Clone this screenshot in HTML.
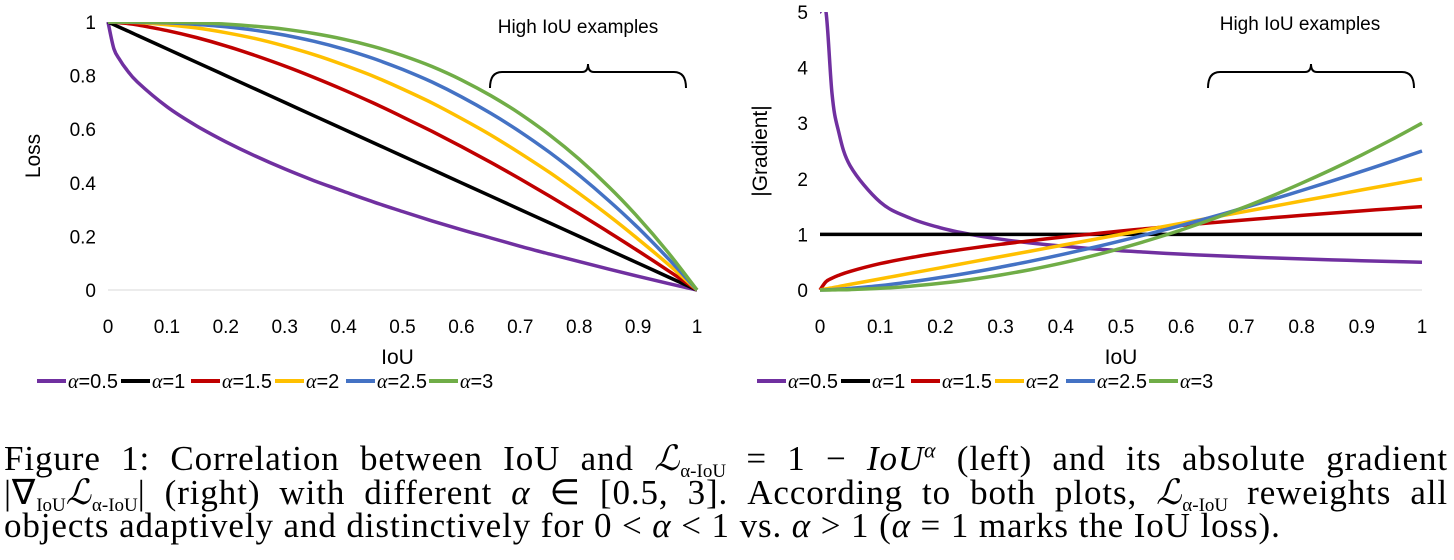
<!DOCTYPE html>
<html><head><meta charset="utf-8"><style>
body{margin:0;background:#fff;width:1454px;height:560px;overflow:hidden;position:relative;font-family:"Liberation Sans",sans-serif}
svg{position:absolute;left:0;top:0}
.cap{position:absolute;left:4px;width:1444px;font-family:"Liberation Serif",serif;font-size:35px;line-height:33px;height:33px;letter-spacing:0.9px;white-space:nowrap;text-align:justify;text-align-last:justify}
.cap i{font-style:italic}
sub,sup{line-height:0}
sub{font-size:19px;vertical-align:-7px;letter-spacing:0}
</style></head><body>
<svg id="chart" width="1454" height="420"></svg>
<div class="cap" style="top:442px">Figure 1: Correlation between IoU and <i>ℒ</i><sub>α-IoU</sub> = 1 − <i>IoU<sup style="font-size:22px">α</sup></i> (left) and its absolute gradient</div>
<div class="cap" style="top:476px">|∇<sub>IoU</sub><i>ℒ</i><sub>α-IoU</sub>| (right) with different <i>α</i> ∈ [0.5, 3]. According to both plots, <i>ℒ</i><sub>α-IoU</sub> reweights all</div>
<div class="cap" style="top:509px;text-align-last:left;width:auto">objects adaptively and distinctively for 0 &lt; <i>α</i> &lt; 1 vs. <i>α</i> &gt; 1 (<i>α</i> = 1 marks the IoU loss).</div>
<script>
const xs=[0,0.01,0.02,0.03,0.05,0.1,0.15,0.2,0.25,0.3,0.35,0.4,0.45,0.5,0.55,0.6,0.65,0.7,0.75,0.8,0.85,0.9,0.95,1];
const alphas=["0.5","1","1.5","2","2.5","3"];
const colors=["#7030a0","#000000","#c00000","#ffc000","#4472c4","#70ad47"];
const loss05=[1,0.9,0.859,0.827,0.776,0.684,0.613,0.553,0.5,0.452,0.408,0.368,0.329,0.293,0.258,0.225,0.194,0.163,0.134,0.106,0.078,0.051,0.025,0];
const loss1=[1,0.99,0.98,0.97,0.95,0.9,0.85,0.8,0.75,0.7,0.65,0.6,0.55,0.5,0.45,0.4,0.35,0.3,0.25,0.2,0.15,0.1,0.05,0];
const loss15=[1,0.999,0.997,0.995,0.989,0.968,0.942,0.911,0.875,0.836,0.793,0.747,0.698,0.646,0.592,0.535,0.476,0.414,0.350,0.284,0.216,0.146,0.074,0];
const loss2=[1,1,1,0.999,0.998,0.99,0.978,0.96,0.938,0.91,0.878,0.84,0.798,0.75,0.698,0.64,0.578,0.51,0.438,0.36,0.278,0.19,0.098,0];
const loss25=[1,1,1,1,0.999,0.997,0.991,0.982,0.969,0.951,0.928,0.899,0.864,0.823,0.776,0.721,0.659,0.59,0.513,0.428,0.334,0.232,0.12,0];
const loss3=[1,1,1,1,1,0.999,0.997,0.992,0.984,0.973,0.957,0.936,0.909,0.875,0.834,0.784,0.725,0.657,0.578,0.488,0.386,0.271,0.143,0];
const grad05=[5,5,3.536,2.887,2.236,1.581,1.291,1.118,1,0.913,0.845,0.791,0.745,0.707,0.674,0.645,0.62,0.598,0.577,0.559,0.542,0.527,0.513,0.5];
const grad1=[1,1,1,1,1,1,1,1,1,1,1,1,1,1,1,1,1,1,1,1,1,1,1,1];
const grad15=[0,0.15,0.212,0.26,0.335,0.474,0.581,0.671,0.75,0.822,0.887,0.949,1.006,1.061,1.112,1.162,1.209,1.255,1.299,1.342,1.383,1.423,1.462,1.5];
const grad2=[0,0.02,0.04,0.06,0.1,0.2,0.3,0.4,0.5,0.6,0.7,0.8,0.9,1,1.1,1.2,1.3,1.4,1.5,1.6,1.7,1.8,1.9,2];
const grad25=[0,0.0025,0.0071,0.013,0.028,0.079,0.145,0.224,0.3125,0.411,0.518,0.633,0.755,0.884,1.02,1.162,1.31,1.464,1.624,1.789,1.959,2.134,2.315,2.5];
const grad3=[0,0.0003,0.0012,0.0027,0.0075,0.03,0.0675,0.12,0.1875,0.27,0.3675,0.48,0.6075,0.75,0.9075,1.08,1.2675,1.47,1.6875,1.92,2.1675,2.43,2.7075,3];
const xTicks=["0","0.1","0.2","0.3","0.4","0.5","0.6","0.7","0.8","0.9","1"];
const lossTicks=["0","0.2","0.4","0.6","0.8","1"];
const gradTicks=["0","1","2","3","4","5"];

const svg=document.getElementById('chart');
const NS='http://www.w3.org/2000/svg';
function mk(t,a,p){const e=document.createElementNS(NS,t);for(const k in a)e.setAttribute(k,a[k]);(p||svg).appendChild(e);return e;}
function smooth(pts){
  let d='M'+pts[0][0].toFixed(1)+','+pts[0][1].toFixed(1);
  for(let i=0;i<pts.length-1;i++){
    const p0=pts[Math.max(i-1,0)],p1=pts[i],p2=pts[i+1],p3=pts[Math.min(i+2,pts.length-1)];
    const c1=[p1[0]+(p2[0]-p0[0])/6,p1[1]+(p2[1]-p0[1])/6];
    const c2=[p2[0]-(p3[0]-p1[0])/6,p2[1]-(p3[1]-p1[1])/6];
    d+='C'+c1.map(v=>v.toFixed(1)).join(',')+' '+c2.map(v=>v.toFixed(1)).join(',')+' '+p2[0].toFixed(1)+','+p2[1].toFixed(1);
  }
  return d;
}
let clipN=0;
function panel(cfg){
  const g=mk('g',{});
  
  
  const X=v=>cfg.x0+(cfg.x1-cfg.x0)*v;
  const Y=v=>cfg.y0-(cfg.y0-cfg.y1)*v/cfg.ymax;
  const cid='clip'+(clipN++);
  const cp=mk('clipPath',{id:cid},g);
  mk('rect',{x:cfg.x0-10,y:cfg.y1,width:cfg.x1-cfg.x0+20,height:cfg.y0-cfg.y1+10},cp);
  xTicks.forEach(t=>{const e=mk('text',{x:X(+t),y:333,'text-anchor':'middle','font-size':19},g);e.textContent=t;
    
    });
  cfg.yTicks.forEach(t=>{const e=mk('text',{x:cfg.x0-12,y:Y(+t)+7,'text-anchor':'end','font-size':19},g);e.textContent=t;
    
    });
  const ax=mk('line',{x1:cfg.x0,x2:cfg.x1,y1:cfg.y0,y2:cfg.y0,stroke:'#d9d9d9','stroke-width':1},g);
  
  
  const xt=mk('text',{x:X(0.5)-(cfg.name==='loss-chart'?5:0),y:364,'text-anchor':'middle','font-size':21},g);xt.textContent='IoU';
  
  
  const yt=mk('text',{transform:`translate(${cfg.ytx},${(cfg.y0+cfg.y1)/2}) rotate(-90)`,'text-anchor':'middle','font-size':21},g);yt.textContent=cfg.ytitle;
  
  
  cfg.series.forEach((s,i)=>{
    const pts=xs.map((x,j)=>[X(x),Y(Math.min(s[j],cfg.ymax))]);
    const p=mk('path',{d:smooth(pts),fill:'none',stroke:colors[i],'stroke-width':3.5,'stroke-linejoin':'round','clip-path':`url(#${cid})`},g);
    
    
  });
  const b=cfg.br;
  const br=mk('path',{d:`M${b[0]},${b[2]+16}Q${b[0]},${b[2]} ${b[0]+12},${b[2]}L${(b[0]+b[1])/2-6},${b[2]}Q${(b[0]+b[1])/2},${b[2]} ${(b[0]+b[1])/2},${b[2]-8}Q${(b[0]+b[1])/2},${b[2]} ${(b[0]+b[1])/2+6},${b[2]}L${b[1]-12},${b[2]}Q${b[1]},${b[2]} ${b[1]},${b[2]+16}`,fill:'none',stroke:'#000','stroke-width':2},g);
  
  
  const bt=mk('text',{x:cfg.btx,y:cfg.bty,'text-anchor':'middle','font-size':19},g);bt.textContent='High IoU examples';
  
  
  const offs=[0,84,154,238,309,392];
  alphas.forEach((a,i)=>{
    const lx=cfg.lx+offs[i];
    const ln=mk('line',{x1:lx,x2:lx+29,y1:381,y2:381,stroke:colors[i],'stroke-width':4},g);
    
    
    const t=mk('text',{x:lx+31,y:388,'font-size':20},g);
    t.innerHTML='<tspan font-style="italic" font-family="Liberation Serif">α</tspan>='+a;
    
    
  });
}
panel({name:'loss-chart',x0:108,x1:697,y0:290,y1:22,ymax:1,yTicks:lossTicks,ytitle:'Loss',ytx:40,
  series:[loss05,loss1,loss15,loss2,loss25,loss3],br:[490,686,72],btx:578,bty:33,lx:37});
panel({name:'gradient-chart',x0:820,x1:1422,y0:290,y1:12,ymax:5,yTicks:gradTicks,ytitle:'|Gradient|',ytx:767,
  series:[grad05,grad1,grad15,grad2,grad25,grad3],br:[1208,1414,72],btx:1300,bty:30,lx:757});
</script>
</body></html>
